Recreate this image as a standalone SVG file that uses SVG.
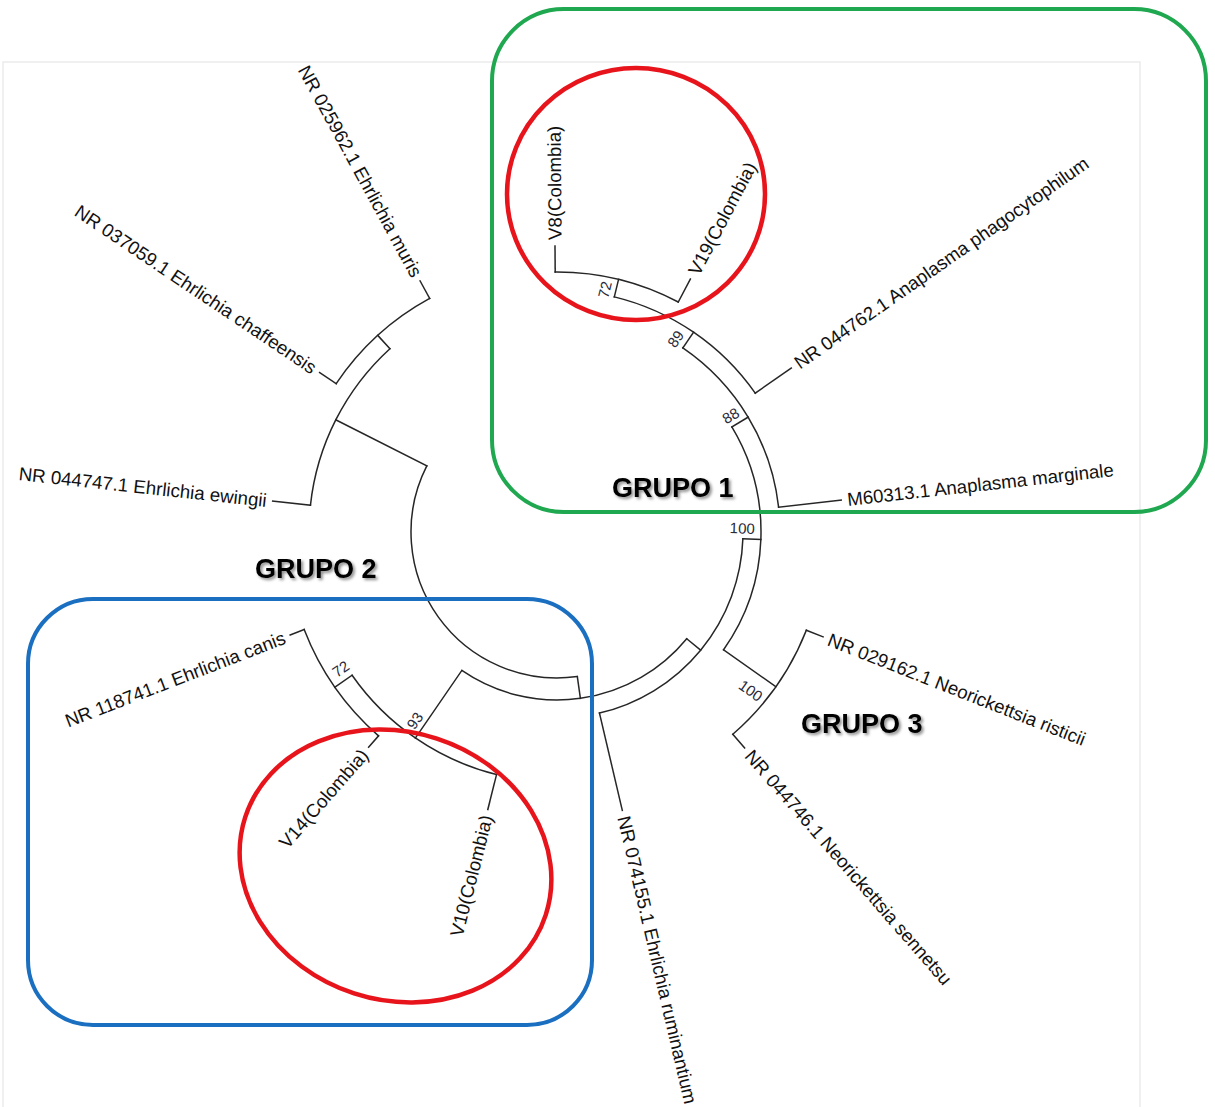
<svg xmlns="http://www.w3.org/2000/svg" width="1215" height="1107" viewBox="0 0 1215 1107">
<style>
  .br{fill:none;stroke:#262626;stroke-width:1.5;stroke-linecap:square}
  .lf{font-family:"Liberation Sans",Arial,sans-serif;font-size:18.7px;fill:#111}
  .bs{font-family:"Liberation Sans",Arial,sans-serif;font-size:15px;fill:#2a2a3a;text-anchor:middle}
  .grp{font-family:"Liberation Sans",Arial,sans-serif;font-size:27px;font-weight:bold;fill:#000;filter:url(#sh)}
  .box{fill:none;stroke-width:4}
  .ring{fill:none;stroke:#e8141c;stroke-width:4.5}
</style>
<defs>
  <filter id="sh" x="-10%" y="-30%" width="130%" height="180%">
    <feDropShadow dx="2" dy="2" stdDeviation="1.5" flood-color="#000" flood-opacity="0.45"/>
  </filter>
</defs>
<rect x="0" y="0" width="1215" height="1107" fill="#fff"/>
<rect x="3" y="62" width="1137" height="1060" fill="none" stroke="#ebebeb" stroke-width="1.5"/>

<g id="connectors">
  <path class="br" d="M426.80,465.95 A146,146 0 0 0 577.32,676.58"/>
  <path class="br" d="M426.80,465.95 L335.83,419.80"/>
  <path class="br" d="M389.92,348.73 A248,248 0 0 0 310.45,505.22"/>
  <path class="br" d="M389.92,348.73 L377.80,335.43"/>
  <path class="br" d="M429.67,298.46 A266,266 0 0 0 336.20,383.66"/>
  <path class="br" d="M429.67,298.46 L420.09,280.90"/>
  <path class="br" d="M336.20,383.66 L319.60,372.51"/>
  <path class="br" d="M310.45,505.22 L272.67,501.11"/>
  <path class="br" d="M577.32,676.58 L580.38,698.37"/>
  <path class="br" d="M461.84,670.45 A168,168 0 0 0 686.72,638.73"/>
  <path class="br" d="M461.84,670.45 L415.40,738.03"/>
  <path class="br" d="M352.09,675.22 A250,250 0 0 0 496.52,774.58"/>
  <path class="br" d="M496.52,774.58 L487.81,809.51"/>
  <path class="br" d="M352.09,675.22 L334.87,687.25"/>
  <path class="br" d="M304.17,629.55 A271,271 0 0 0 378.50,735.90"/>
  <path class="br" d="M304.17,629.55 L290.18,634.95"/>
  <path class="br" d="M378.50,735.90 L368.61,747.19"/>
  <path class="br" d="M686.72,638.73 L700.64,650.17"/>
  <path class="br" d="M599.47,713.09 A186,186 0 0 0 742.88,538.82"/>
  <path class="br" d="M599.47,713.09 L622.31,810.44"/>
  <path class="br" d="M742.88,538.82 L760.86,539.47"/>
  <path class="br" d="M723.59,649.74 A204,204 0 0 0 731.86,426.93"/>
  <path class="br" d="M723.59,649.74 L775.86,686.68"/>
  <path class="br" d="M732.82,734.26 A268,268 0 0 0 806.35,630.22"/>
  <path class="br" d="M732.82,734.26 L744.63,747.85"/>
  <path class="br" d="M806.35,630.22 L823.10,636.82"/>
  <path class="br" d="M731.86,426.93 L748.15,417.15"/>
  <path class="br" d="M778.61,507.14 A223,223 0 0 0 682.83,347.89"/>
  <path class="br" d="M778.61,507.14 L841.22,500.12"/>
  <path class="br" d="M682.83,347.89 L693.55,332.20"/>
  <path class="br" d="M755.23,393.19 A242,242 0 0 0 614.32,296.88"/>
  <path class="br" d="M755.23,393.19 L791.28,367.96"/>
  <path class="br" d="M614.32,296.88 L618.58,279.40"/>
  <path class="br" d="M678.26,302.01 A260,260 0 0 0 555.19,272.01"/>
  <path class="br" d="M678.26,302.01 L690.38,279.01"/>
  <path class="br" d="M555.19,272.01 L555.00,246.01"/>
</g>

<g id="leaf-V8"><text class="lf" transform="translate(554.96,240.01) rotate(-90.4)" dy="0.35em">V8(Colombia)</text></g>
<g id="leaf-V19"><text class="lf" transform="translate(693.18,273.70) rotate(-62.2)" dy="0.35em">V19(Colombia)</text></g>
<g id="leaf-phagocytophilum"><text class="lf" transform="translate(796.19,364.51) rotate(-35)" dy="0.35em">NR 044762.1 Anaplasma phagocytophilum</text></g>
<g id="leaf-marginale"><text class="lf" transform="translate(847.18,499.45) rotate(-6.4)" dy="0.35em">M60313.1 Anaplasma marginale</text></g>
<g id="leaf-risticii"><text class="lf" transform="translate(828.68,639.02) rotate(21.5)" dy="0.35em">NR 029162.1 Neorickettsia risticii</text></g>
<g id="leaf-sennetsu"><text class="lf" transform="translate(748.57,752.38) rotate(49)" dy="0.35em">NR 044746.1 Neorickettsia sennetsu</text></g>
<g id="leaf-ruminantium"><text class="lf" transform="translate(623.68,816.29) rotate(76.8)" dy="0.35em">NR 074155.1 Ehrlichia ruminantium</text></g>
<g id="leaf-V10"><text class="lf" text-anchor="end" transform="translate(486.36,815.33) rotate(-76)" dy="0.35em">V10(Colombia)</text></g>
<g id="leaf-V14"><text class="lf" text-anchor="end" transform="translate(364.66,751.70) rotate(-48.8)" dy="0.35em">V14(Colombia)</text></g>
<g id="leaf-canis"><text class="lf" text-anchor="end" transform="translate(284.58,637.11) rotate(-21.1)" dy="0.35em">NR 118741.1 Ehrlichia canis</text></g>
<g id="leaf-ewingii"><text class="lf" text-anchor="end" transform="translate(266.71,500.46) rotate(6.2)" dy="0.35em">NR 044747.1 Ehrlichia ewingii</text></g>
<g id="leaf-chaffeensis"><text class="lf" text-anchor="end" transform="translate(314.62,369.16) rotate(33.9)" dy="0.35em">NR 037059.1 Ehrlichia chaffeensis</text></g>
<g id="leaf-muris"><text class="lf" text-anchor="end" transform="translate(417.22,275.63) rotate(61.4)" dy="0.35em">NR 025962.1 Ehrlichia muris</text></g>

<g id="bootstrap">
  <text class="bs" transform="translate(605,289.7) rotate(-76.3)" dy="0.35em">72</text>
  <text class="bs" transform="translate(675.7,339) rotate(-55.65)" dy="0.35em">89</text>
  <text class="bs" transform="translate(730.7,415.7) rotate(-31)" dy="0.35em">88</text>
  <text class="bs" transform="translate(742.3,528.3) rotate(2.1)" dy="0.35em">100</text>
  <text class="bs" transform="translate(750.7,690.7) rotate(35.25)" dy="0.35em">100</text>
  <text class="bs" transform="translate(340.7,669) rotate(-35)" dy="0.35em">72</text>
  <text class="bs" transform="translate(415,720.7) rotate(-55.5)" dy="0.35em">93</text>
</g>

<g id="grupo1">
  <rect class="box" x="492" y="9" width="714" height="503" rx="72" ry="72" stroke="#1fa84f"/>
  <text class="grp" x="612" y="497">GRUPO 1</text>
</g>
<g id="grupo2">
  <rect class="box" x="28" y="599" width="564" height="426" rx="65" ry="65" stroke="#1a6fc0"/>
  <text class="grp" x="255" y="578">GRUPO 2</text>
</g>
<g id="grupo3">
  <text class="grp" x="801" y="733">GRUPO 3</text>
</g>
<g id="highlight-top"><ellipse class="ring" cx="636" cy="194" rx="129" ry="126"/></g>
<g id="highlight-bottom"><ellipse class="ring" cx="395.5" cy="866" rx="158" ry="134" transform="rotate(18 395.5 866)"/></g>
</svg>
